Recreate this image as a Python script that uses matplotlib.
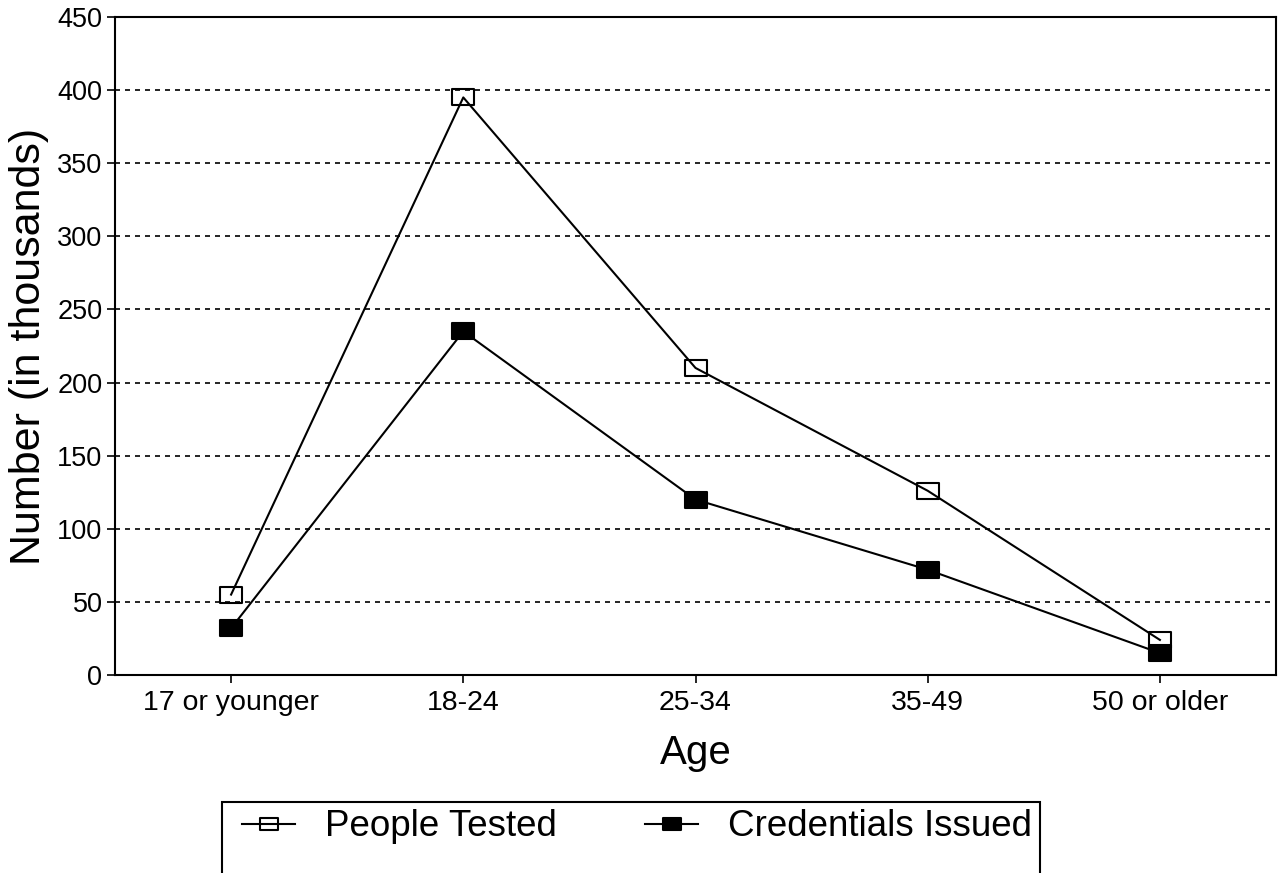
"""Number of people tested and credentials issued, by age group."""
import matplotlib
matplotlib.use("Agg")
import matplotlib.pyplot as plt
from matplotlib.patches import Rectangle
from matplotlib.path import Path

plt.rcParams["font.family"] = ["Liberation Sans", "DejaVu Sans"]

# --- Data (thousands) ---
age_groups = ["17 or younger", "18-24", "25-34", "35-49", "50 or older"]
people_tested = [55, 395, 210, 126, 24]
credentials_issued = [32, 235, 120, 72, 15]
y_ticks = [0, 50, 100, 150, 200, 250, 300, 350, 400, 450]

# wide rectangle marker, like the original
rect = Path([(-1.35, -1), (1.35, -1), (1.35, 1), (-1.35, 1), (-1.35, -1)],
            [Path.MOVETO, Path.LINETO, Path.LINETO, Path.LINETO, Path.CLOSEPOLY])

W, H = 1278, 873
fig = plt.figure(figsize=(W / 100, H / 100), dpi=100)
ax = fig.add_axes([115 / W, 1 - 675 / H, (1276 - 115) / W, (675 - 17) / H])

x = range(len(age_groups))
ax.plot(x, people_tested, color="black", linewidth=1.5, marker=rect,
        markersize=16, markerfacecolor="none", markeredgecolor="black",
        markeredgewidth=1.5, label="People Tested", zorder=3)
ax.plot(x, credentials_issued, color="black", linewidth=1.5, marker=rect,
        markersize=16, markerfacecolor="black", markeredgecolor="black",
        markeredgewidth=1.5, label="Credentials Issued", zorder=3)

ax.set_xlim(-0.5, 4.5)
ax.set_ylim(0, 450)
ax.set_xticks(list(x))
ax.set_xticklabels(age_groups)
ax.set_yticks(y_ticks)

# dashed gridlines, inside only
for v in y_ticks[1:-1]:
    ax.axhline(v, color="black", linewidth=1.2, linestyle=(0, (3, 3)), zorder=1)

for s in ax.spines.values():
    s.set_linewidth(1.5)
ax.tick_params(axis="both", direction="out", length=6, width=1.2, color="black")
ax.tick_params(axis="x", labelsize=20.5, pad=5)
ax.tick_params(axis="y", labelsize=19.5, pad=3)

ax.set_xlabel("Age", fontsize=29, labelpad=13)
ax.set_ylabel("Number (in thousands)", fontsize=31, labelpad=6)

# legend at the bottom, box runs off the lower edge
fig.legend(loc="center left", bbox_to_anchor=(242 / W, 1 - 827 / H), ncol=2,
           frameon=False, fontsize=26.5, handlelength=1.45, handletextpad=0.8,
           columnspacing=2.4, borderpad=0, borderaxespad=0, markerscale=0.78)
fig.patches.append(Rectangle((222 / W, -0.1), (1040 - 222) / W, (873 - 802) / H + 0.1,
                             transform=fig.transFigure, fill=False,
                             edgecolor="black", linewidth=1.5))

plt.savefig("out.png", dpi=100)
